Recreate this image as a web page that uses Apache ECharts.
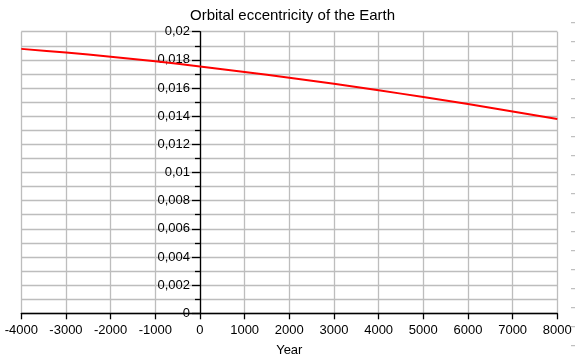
<!DOCTYPE html>
<html>
<head>
<meta charset="utf-8">
<script src="https://cdn.jsdelivr.net/npm/echarts@6/dist/echarts.min.js"></script>
<style>
html,body{margin:0;padding:0;background:#fff;}
#chart{width:575px;height:362px;}
</style>
</head>
<body>
<div id="chart"></div>
<script>
var titleText = "Orbital eccentricity of the Earth";
var xName = "Year";
var years = [-4000, -3000, -2000, -1000, 0, 1000, 2000, 3000, 4000, 5000, 6000, 7000, 8000];
var eccentricity = [0.01878, 0.01852, 0.01822, 0.01790, 0.01753, 0.01714, 0.01673, 0.01630, 0.01584, 0.01536, 0.01486, 0.01434, 0.01380];

var font = "Liberation Sans, Arial, Helvetica, sans-serif";
var chart = echarts.init(document.getElementById('chart'), null, {renderer: 'canvas'});

var gridLeft = 21.3, gridRight = 17.7, width = 575;
var xMin = -4000, xMax = 8000;
var yAxisOffset = -((0 - xMin) / (xMax - xMin)) * (width - gridLeft - gridRight);

var dashes = [];
for (var i = 0; i < 18; i++) {
  var yy = 22.7 + i * 19;
  dashes.push({type: 'line', shape: {x1: 571, y1: yy, x2: 576, y2: yy}, style: {stroke: '#b0b0b0', lineWidth: 1}, silent: true});
}

chart.setOption({
  animation: false,
  backgroundColor: '#ffffff',
  title: {
    text: titleText,
    left: 185,
    top: 3,
    textStyle: {fontFamily: font, fontSize: 15, fontWeight: 'normal', color: '#000'}
  },
  graphic: dashes,
  grid: {left: gridLeft, right: gridRight, top: 31.7, bottom: 48.7, containLabel: false, outerBoundsMode: 'none'},
  xAxis: {
    type: 'value',
    min: xMin, max: xMax, interval: 1000,
    name: xName,
    nameLocation: 'middle',
    nameGap: 31,
    nameTextStyle: {fontFamily: font, fontSize: 13, color: '#000'},
    axisLine: {show: true, onZero: false, lineStyle: {color: '#000', width: 1.3}},
    axisTick: {show: true, inside: false, length: 6, lineStyle: {color: '#000', width: 1.3}},
    axisLabel: {
      fontFamily: font, fontSize: 13, color: '#000', margin: 11,
      formatter: function (v) { return String(v); }
    },
    splitLine: {show: true, lineStyle: {color: '#bdbdbd', width: 1.3}}
  },
  yAxis: {
    type: 'value',
    position: 'left',
    offset: yAxisOffset,
    min: 0, max: 0.02, interval: 0.002,
    axisLine: {show: true, onZero: false, lineStyle: {color: '#000', width: 1.3}},
    axisTick: {show: true, length: 8, lineStyle: {color: '#000', width: 1.3}},
    minorTick: {show: true, splitNumber: 2, length: 5, lineStyle: {color: '#000', width: 1.3}},
    axisLabel: {
      fontFamily: font, fontSize: 13, color: '#000', margin: 10,
      formatter: function (v) { return String(parseFloat(v.toFixed(4))).replace('.', ','); }
    },
    splitLine: {show: true, lineStyle: {color: '#bdbdbd', width: 1.3}},
    minorSplitLine: {show: true, lineStyle: {color: '#bdbdbd', width: 1.3}}
  },
  series: [{
    type: 'line',
    data: years.map(function (y, i) { return [y, eccentricity[i]]; }),
    showSymbol: false,
    smooth: 0.3,
    lineStyle: {color: '#ff0000', width: 2},
    z: 5
  }]
});
</script>
</body>
</html>
